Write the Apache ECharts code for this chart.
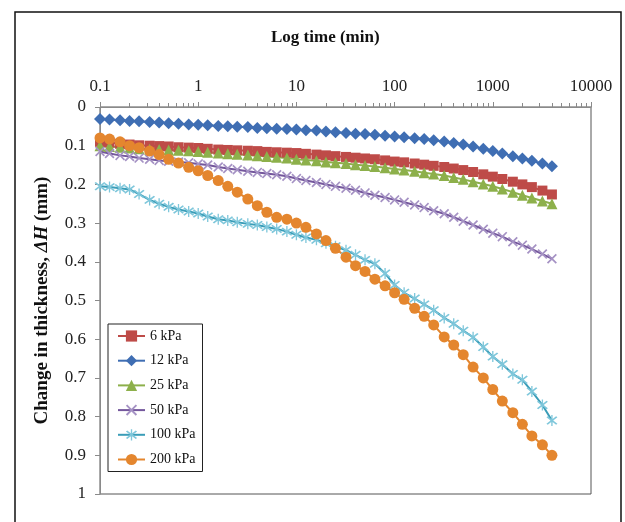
<!DOCTYPE html>
<html><head><meta charset="utf-8">
<script src="https://cdn.jsdelivr.net/npm/echarts@6/dist/echarts.min.js"></script>
<style>html,body{margin:0;padding:0;background:#fff}#c{width:625px;height:522px}</style>
</head><body><div id="c"></div>
<script>
const times = [0.1,0.125,0.16,0.2,0.25,0.32,0.4,0.5,0.63,0.8,1,1.25,1.6,2,2.5,3.2,4,5,6.3,8,10,12.5,16,20,25,32,40,50,63,80,100,125,160,200,250,320,400,500,630,800,1000,1250,1600,2000,2500,3200,4000];
const kpa6 = [0.09,0.092,0.095,0.097,0.099,0.1,0.101,0.102,0.104,0.105,0.106,0.108,0.11,0.111,0.112,0.113,0.114,0.116,0.117,0.118,0.119,0.121,0.123,0.125,0.127,0.129,0.131,0.133,0.135,0.138,0.141,0.143,0.146,0.149,0.152,0.155,0.159,0.163,0.168,0.174,0.18,0.186,0.193,0.2,0.207,0.216,0.226];
const kpa12 = [0.031,0.032,0.034,0.036,0.037,0.039,0.04,0.042,0.043,0.045,0.046,0.047,0.049,0.05,0.051,0.052,0.054,0.055,0.056,0.057,0.058,0.06,0.061,0.063,0.065,0.067,0.069,0.07,0.072,0.074,0.076,0.078,0.081,0.083,0.086,0.089,0.093,0.097,0.102,0.108,0.114,0.12,0.127,0.133,0.139,0.146,0.153];
const kpa25 = [0.1,0.102,0.104,0.106,0.108,0.109,0.11,0.111,0.112,0.113,0.115,0.117,0.119,0.121,0.122,0.124,0.126,0.128,0.13,0.132,0.135,0.137,0.139,0.142,0.144,0.146,0.149,0.151,0.154,0.157,0.16,0.163,0.166,0.17,0.173,0.177,0.182,0.187,0.193,0.199,0.205,0.212,0.22,0.228,0.235,0.243,0.25];
const kpa50 = [0.115,0.12,0.125,0.128,0.132,0.135,0.138,0.14,0.142,0.144,0.147,0.15,0.155,0.159,0.162,0.166,0.169,0.172,0.175,0.179,0.185,0.19,0.195,0.2,0.205,0.21,0.215,0.222,0.228,0.234,0.24,0.246,0.253,0.26,0.268,0.276,0.285,0.295,0.305,0.316,0.326,0.335,0.348,0.357,0.367,0.38,0.392];
const kpa100 = [0.205,0.207,0.21,0.213,0.225,0.24,0.25,0.258,0.265,0.27,0.275,0.283,0.29,0.293,0.298,0.302,0.305,0.31,0.315,0.322,0.33,0.337,0.343,0.352,0.36,0.37,0.382,0.395,0.405,0.43,0.46,0.48,0.495,0.51,0.525,0.545,0.56,0.578,0.595,0.62,0.645,0.665,0.69,0.705,0.735,0.77,0.81];
const kpa200 = [0.08,0.083,0.09,0.1,0.105,0.114,0.123,0.135,0.145,0.156,0.165,0.177,0.19,0.205,0.22,0.238,0.255,0.272,0.285,0.29,0.3,0.311,0.328,0.345,0.365,0.388,0.41,0.425,0.445,0.462,0.48,0.497,0.52,0.541,0.563,0.594,0.615,0.64,0.672,0.7,0.73,0.76,0.79,0.82,0.85,0.873,0.9];
const seriesNames = ['6 kPa','12 kPa','25 kPa','50 kPa','100 kPa','200 kPa'];
const xTickLabels = ['0.1','1','10','100','1000','10000'];

const X = 'path://M0,1.2L1.2,0L5,3.8L8.8,0L10,1.2L6.2,5L10,8.8L8.8,10L5,6.2L1.2,10L0,8.8L3.8,5Z';
const STAR = 'path://M0,1.2L1.2,0L5,3.8L8.8,0L10,1.2L6.2,5L10,8.8L8.8,10L5,6.2L1.2,10L0,8.8L3.8,5ZM4.4,-1.5L5.6,-1.5L5.6,11.5L4.4,11.5Z';
const styles = [
  {line:'#BE4B48', mark:'#BE4B48', symbol:'rect', size:10},
  {line:'#3F6EB3', mark:'#3F6EB3', symbol:'diamond', size:12},
  {line:'#8DB04B', mark:'#8DB04B', symbol:'triangle', size:11},
  {line:'#74579C', mark:'#A592C4', symbol:X, size:10},
  {line:'#3A9DB8', mark:'#7FC7DB', symbol:STAR, size:11},
  {line:'#E4862E', mark:'#E4862E', symbol:'circle', size:11}
];
const values = [kpa6,kpa12,kpa25,kpa50,kpa100,kpa200];
const serif = '"Liberation Serif","Times New Roman",serif';

const series = values.map((v,k)=>({
  name: seriesNames[k], type:'line', smooth:false,
  data: times.map((t,i)=>[t, v[i]]),
  symbol: styles[k].symbol, symbolSize: styles[k].size,
  lineStyle:{color:styles[k].line, width:2},
  itemStyle:{color:styles[k].mark},
  emphasis:{disabled:true}, animation:false
}));

const chart = echarts.init(document.getElementById('c'), null, {renderer:'canvas'});
chart.setOption({
  animation:false,
  backgroundColor:'#fff',
  grid:{left:100, top:107, right:34, bottom:28, show:true, borderColor:'#555', borderWidth:1, backgroundColor:'transparent'},
  graphic:[
    {type:'rect', shape:{x:15, y:12, width:606, height:530}, style:{fill:'none', stroke:'#111', lineWidth:1.5}, z:100},
    {type:'text', left:271, top:29, style:{text:'Log time (min)', font:'bold 17px '+serif, fill:'#111'}}
  ],
  xAxis:{
    type:'log', logBase:10, min:0.1, max:10000, position:'top',
    axisLine:{lineStyle:{color:'#8a8a8a', width:1}},
    axisTick:{show:true, inside:false, length:5, lineStyle:{color:'#8a8a8a'}},
    minorTick:{show:true, splitNumber:9, length:4, lineStyle:{color:'#8a8a8a'}},
    splitLine:{show:false}, minorSplitLine:{show:false},
    axisLabel:{fontFamily:serif, fontSize:17, color:'#222', margin:12,
      formatter:(v)=>{const s = xTickLabels.find(l=>Math.abs(parseFloat(l)-v)<1e-9*Math.max(1,v)); return s||String(v);}}
  },
  yAxis:{
    type:'value', inverse:true, min:0, max:1, interval:0.1,
    name:'Change in thickness, {i|ΔH} (mm)', nameLocation:'middle', nameGap:48, nameRotate:90,
    nameTextStyle:{fontFamily:serif, fontSize:19, fontWeight:'bold', color:'#111',
      rich:{i:{fontFamily:serif, fontSize:19, fontWeight:'bold', fontStyle:'italic', color:'#111'}}},
    axisLine:{show:true, lineStyle:{color:'#8a8a8a', width:1}},
    axisTick:{show:true, inside:false, length:5, lineStyle:{color:'#8a8a8a'}},
    splitLine:{show:false},
    axisLabel:{fontFamily:serif, fontSize:17, color:'#222', margin:14,
      formatter:(v)=>String(Math.round(v*10)/10)}
  },
  legend:{
    show:true, orient:'vertical', left:108, top:324,
    backgroundColor:'#fff', borderColor:'#222', borderWidth:1,
    padding:[5,7,5,9], itemGap:10.7, itemWidth:27, itemHeight:14,
    textStyle:{fontFamily:serif, fontSize:14, color:'#111'},
    data: seriesNames
  },
  series: series
});
</script></body></html>
